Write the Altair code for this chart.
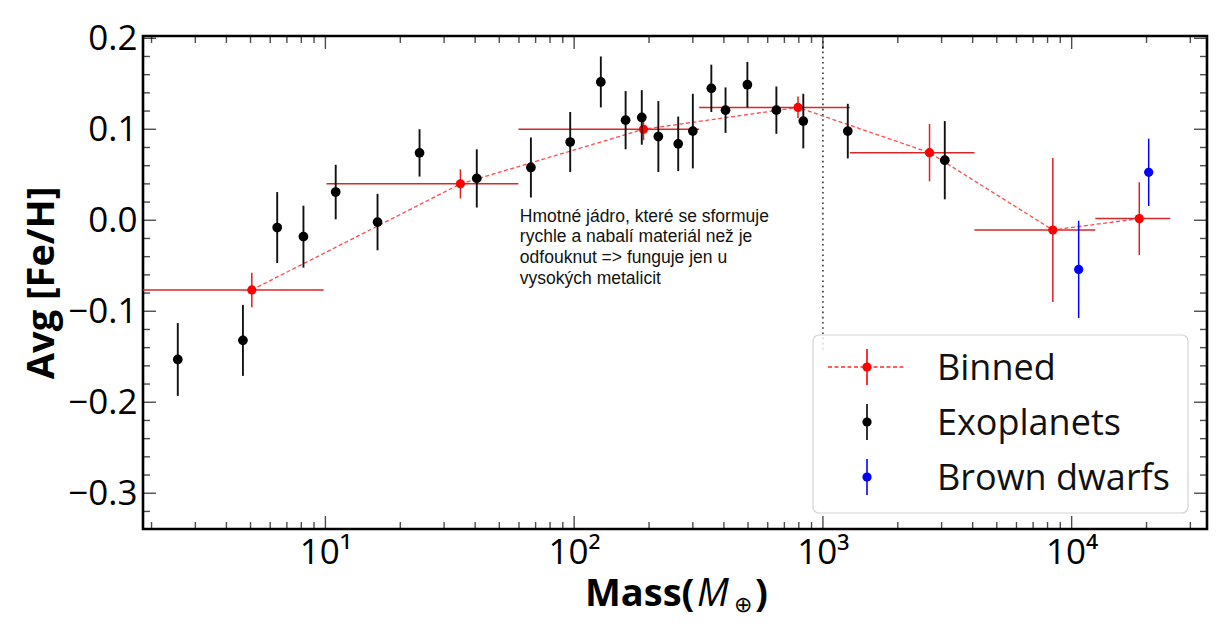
import altair as alt
import pandas as pd

# ---------------- data ----------------
exo_mass = [2.55, 4.66, 6.4, 8.16, 11.0, 16.2, 23.9, 40.6, 67.0, 96.4, 128, 161, 187,
            218, 262, 300, 356, 406, 497, 650, 834, 1259, 3090]
exo_feh = [-0.153, -0.132, -0.008, -0.018, 0.031, -0.002, 0.074, 0.046, 0.058, 0.086,
           0.152, 0.110, 0.113, 0.092, 0.084, 0.098, 0.145, 0.121, 0.149, 0.121, 0.109,
           0.098, 0.066]
exo_err = [0.040, 0.039, 0.039, 0.034, 0.030, 0.031, 0.026, 0.032, 0.033, 0.033, 0.028,
           0.032, 0.030, 0.039, 0.030, 0.041, 0.026, 0.025, 0.025, 0.026, 0.030, 0.030,
           0.043]

bd_mass = [10670, 20400]
bd_feh = [-0.054, 0.0527]
bd_err = [0.0535, 0.037]

bin_mass = [5.06, 34.9, 190, 794, 2683, 8400, 18700]
bin_feh = [-0.0766, 0.040, 0.100, 0.124, 0.0743, -0.0107, 0.0018]
bin_err = [0.019, 0.016, 0.012, 0.012, 0.0315, 0.079, 0.040]
bin_lo = [1.0, 10.1, 59.7, 318, 1283, 4065, 12450]
bin_hi = [9.84, 59.7, 318, 1283, 4065, 12450, 24900]

vline_mass = [1000]
vline_feh = [0.2025, -0.146]

annot_lines = ["Hmotné jádro, které se sformuje",
               "rychle a nabalí materiál než je",
               "odfouknut => funguje jen u",
               "vysokých metalicit"]
annot_pos = [60.5, -0.0015]

x_major = [10, 100, 1000, 10000]
x_labels = ["10¹", "10²", "10³", "10⁴"]
x_minor = [2, 3, 4, 5, 6, 7, 8, 9, 20, 30, 40, 50, 60, 70, 80, 90,
           200, 300, 400, 500, 600, 700, 800, 900, 2000, 3000, 4000, 5000, 6000,
           7000, 8000, 9000, 20000, 30000]
y_major = [-0.3, -0.2, -0.1, 0.0, 0.1, 0.2]
y_minor = [-0.32, -0.28, -0.26, -0.24, -0.22, -0.18, -0.16, -0.14, -0.12, -0.08,
           -0.06, -0.04, -0.02, 0.02, 0.04, 0.06, 0.08, 0.12, 0.14, 0.16, 0.18]

legend_labels = ["Binned", "Exoplanets", "Brown dwarfs"]
legend_colors = ["#ff0000", "#000000", "#0000ff"]

x_title_parts = ["Mass(", "M", "⊕", ")"]
y_title = "Avg [Fe/H]"

# ---------------- layout ----------------
W, H = 1064, 493
FONT = "Open Sans"

exo = pd.DataFrame({"mass": exo_mass, "feh": exo_feh, "err": exo_err})
exo["lo"] = exo["feh"] - exo["err"]
exo["hi"] = exo["feh"] + exo["err"]
bd = pd.DataFrame({"mass": bd_mass, "feh": bd_feh, "err": bd_err})
bd["lo"] = bd["feh"] - bd["err"]
bd["hi"] = bd["feh"] + bd["err"]
bins = pd.DataFrame({"mass": bin_mass, "feh": bin_feh, "err": bin_err,
                     "xlo": bin_lo, "xhi": bin_hi})
bins["lo"] = bins["feh"] - bins["err"]
bins["hi"] = bins["feh"] + bins["err"]

xscale = alt.Scale(type="log", domain=[1.848, 35000], nice=False)
yscale = alt.Scale(domain=[-0.3393, 0.2025], nice=False, zero=False)

label_expr = " : ".join(
    f"datum.value == {v} ? '{l}'" for v, l in zip(x_major[:-1], x_labels[:-1])
) + f" : '{x_labels[-1]}'"

xaxis = alt.Axis(values=x_major, labelExpr=label_expr, ticks=False, tickSize=0,
                 domain=False, grid=False, labelFont=FONT, labelFontSize=35,
                 labelColor="#000", labelBaseline="alphabetic", labelPadding=34,
                 labelFlush=False, title=None)
yaxis = alt.Axis(values=y_major, format=".1f", ticks=False, tickSize=0, domain=False,
                 grid=False, labelFont=FONT, labelFontSize=35, labelColor="#000",
                 labelPadding=6, labelFlush=False,
                 titleFont=FONT, titleFontSize=38, titleFontWeight="bold",
                 titleColor="#000", titleX=-90, titleY=H / 2, titleAngle=-90,
                 titleBaseline="alphabetic", titleAlign="center")


def X(f):
    return alt.X(f"{f}:Q", scale=xscale, axis=xaxis, title=None)


def Y(f):
    return alt.Y(f"{f}:Q", scale=yscale, axis=yaxis, title=y_title)


layers = []

# dotted vertical line
vdf = pd.DataFrame({"mass": vline_mass, "y1": [vline_feh[0]], "y2": [vline_feh[1]]})
layers.append(alt.Chart(vdf).mark_rule(color="#333", strokeWidth=1.6,
                                       strokeDash=[1.6, 3.6]).encode(
    x=X("mass"), y=Y("y1"), y2="y2"))

# binned
layers.append(alt.Chart(bins).mark_rule(color="#d92626", strokeWidth=1.5, clip=True).encode(
    x=X("xlo"), x2="xhi", y=Y("feh")))
layers.append(alt.Chart(bins).mark_rule(color="#e01e1e", strokeWidth=1.5).encode(
    x=X("mass"), y=Y("lo"), y2="hi"))
layers.append(alt.Chart(bins).mark_line(color="#ff2a2a", strokeWidth=1.3, opacity=0.85,
                                        strokeDash=[4, 2.5]).encode(
    x=X("mass"), y=Y("feh"), order="mass:Q"))
layers.append(alt.Chart(bins).mark_circle(color="#ff0000", size=85, opacity=1).encode(
    x=X("mass"), y=Y("feh")))

# exoplanets
layers.append(alt.Chart(exo).mark_rule(color="#111", strokeWidth=1.9).encode(
    x=X("mass"), y=Y("lo"), y2="hi"))
layers.append(alt.Chart(exo).mark_circle(color="#000", size=95, opacity=1).encode(
    x=X("mass"), y=Y("feh")))

# brown dwarfs
layers.append(alt.Chart(bd).mark_rule(color="#0000ff", strokeWidth=1.5).encode(
    x=X("mass"), y=Y("lo"), y2="hi"))
layers.append(alt.Chart(bd).mark_circle(color="#0000ff", size=85, opacity=1).encode(
    x=X("mass"), y=Y("feh")))

# annotation
adf = pd.DataFrame({"mass": [annot_pos[0]], "feh": [annot_pos[1]],
                    "txt": ["\n".join(annot_lines)]})
layers.append(alt.Chart(adf).mark_text(align="left", baseline="alphabetic",
                                       font="Liberation Sans", fontSize=17.5,
                                       lineHeight=20.7, lineBreak="\n",
                                       color="#111").encode(
    x=X("mass"), y=Y("feh"), text="txt:N"))


# inward ticks
def ticks_x(vals, length, top):
    df = pd.DataFrame({"mass": vals})
    ypix = length / 2 if top else H - length / 2
    return alt.Chart(df).mark_tick(orient="vertical", size=length, thickness=1.4,
                                   color="#000").encode(x=X("mass"), y=alt.value(ypix))


def ticks_y(vals, length, right):
    df = pd.DataFrame({"feh": vals})
    xpix = W - length / 2 if right else length / 2
    return alt.Chart(df).mark_tick(orient="horizontal", size=length, thickness=1.4,
                                   color="#000").encode(y=Y("feh"), x=alt.value(xpix))


for top in (False, True):
    layers.append(ticks_x(x_major, 13, top))
    layers.append(ticks_x(x_minor, 7, top))
for right in (False, True):
    layers.append(ticks_y(y_major, 13, right))
    layers.append(ticks_y(y_minor, 7, right))

# x-axis title, composed like the mathtext original: bold "Mass(", italic M, small ⊕
TB = H + 77
title_specs = [
    (x_title_parts[0], 442, TB, 38, "bold", "normal"),
    (x_title_parts[1], 554, TB, 38, "normal", "italic"),
    (x_title_parts[2], 591, TB + 6, 22, "normal", "normal"),
    (x_title_parts[3], 612, TB, 38, "bold", "normal"),
]
for txt, tx, ty, fs, fw, fst in title_specs:
    d = pd.DataFrame({"t": [txt]})
    layers.append(alt.Chart(d).mark_text(align="left", baseline="alphabetic", font=FONT,
                                         fontSize=fs, fontWeight=fw, fontStyle=fst,
                                         color="#000").encode(
        x=alt.value(tx), y=alt.value(ty), text="t:N"))

# legend (drawn by hand to show error-bar glyphs)
LX0, LX1, LY0, LY1 = 670, 1045, 299, 477
SYM_X = 724
TXT_X = 794
ROW_Y = [331, 386, 441]
TXT_Y = [344, 398.5, 453.5]
one = pd.DataFrame({"k": [0]})
layers.append(alt.Chart(one).mark_rect(fill="white", fillOpacity=0.8, stroke="#d4d4d4",
                                       strokeWidth=1.2, cornerRadius=6).encode(
    x=alt.value(LX0), x2=alt.value(LX1), y=alt.value(LY0), y2=alt.value(LY1)))
for i, (lab, col) in enumerate(zip(legend_labels, legend_colors)):
    d = pd.DataFrame({"label": [lab]})
    if i == 0:
        layers.append(alt.Chart(d).mark_rule(color="#ff2a2a", strokeWidth=1.3,
                                             strokeDash=[4, 2.5]).encode(
            x=alt.value(SYM_X - 39), x2=alt.value(SYM_X + 39), y=alt.value(ROW_Y[i])))
    layers.append(alt.Chart(d).mark_rule(color=col, strokeWidth=1.6).encode(
        x=alt.value(SYM_X), y=alt.value(ROW_Y[i] - 18), y2=alt.value(ROW_Y[i] + 18)))
    layers.append(alt.Chart(d).mark_circle(color=col, size=85, opacity=1).encode(
        x=alt.value(SYM_X), y=alt.value(ROW_Y[i])))
    layers.append(alt.Chart(d).mark_text(align="left", baseline="alphabetic", font=FONT,
                                         fontSize=36, color="#111").encode(
        x=alt.value(TXT_X), y=alt.value(TXT_Y[i]), text="label:N"))

chart = alt.layer(*layers).properties(
    width=W, height=H,
    autosize=alt.AutoSizeParams(type="none"),
    padding={"left": 135, "top": 28, "right": 5, "bottom": 89},
    background="white",
).configure_view(stroke="#000", strokeWidth=2.6)

chart.save("out.html", embed_options={"renderer": "svg", "actions": False})
